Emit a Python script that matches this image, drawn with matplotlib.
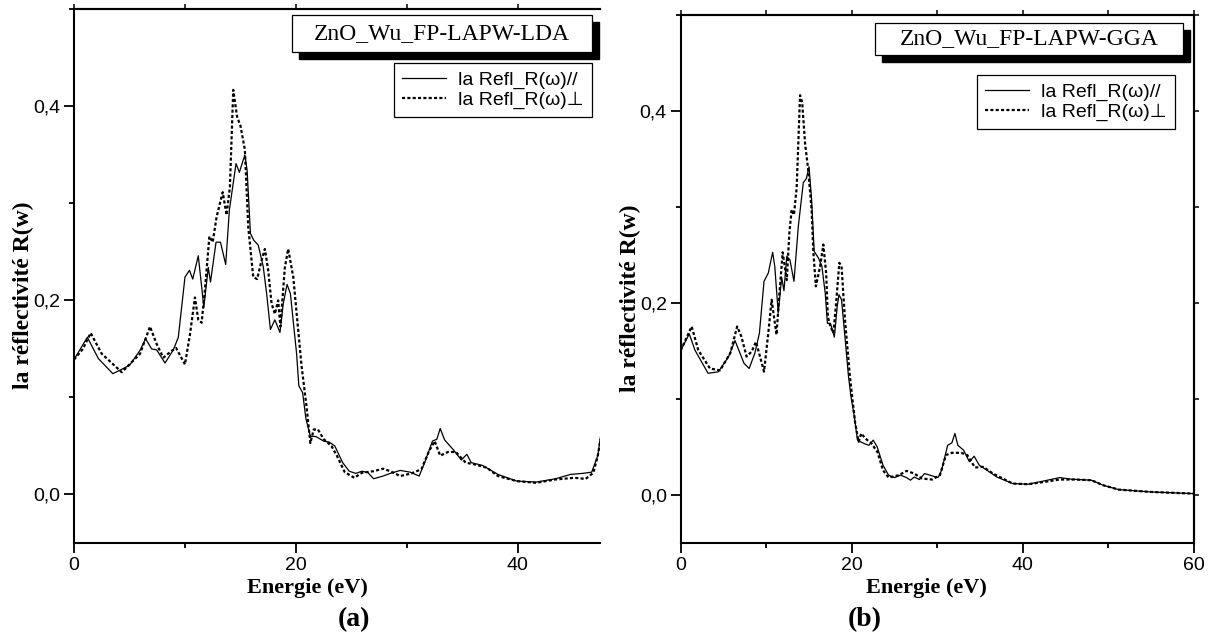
import matplotlib
matplotlib.use("Agg")
import matplotlib.pyplot as plt
from matplotlib.patches import Rectangle
from matplotlib.ticker import MultipleLocator, FuncFormatter

# ---- reflectivity spectra (energy in eV, R(w)) ----
# LDA, parallel polarisation
E_a_par = [0, 1.2, 2.2, 3.5, 5.0, 5.95, 6.45, 7.0, 7.45, 8.2, 8.95, 9.4, 10.0, 10.4, 10.7,
           11.2, 11.7, 12.1, 12.3, 12.8, 13.2, 13.67, 14.0, 14.6, 14.9, 15.4, 15.6, 15.9,
           16.2, 16.6, 17.05, 17.36, 17.7, 18.1, 18.56, 18.86, 19.2, 19.5, 20.06, 20.26,
           20.6, 20.9, 21.3, 21.8, 22.5, 23.0, 23.5, 24.2, 24.8, 25.4, 25.95, 26.5, 27.0,
           27.85, 28.5, 29.4, 30.3, 31.1, 31.6, 32.3, 32.7, 33.0, 33.4, 34.2, 34.9, 35.4,
           35.8, 36.8, 38.2, 39.9, 41.65, 43.4, 44.75, 45.8, 46.65, 47.2, 47.45]
R_a_par = [0.139, 0.162, 0.140, 0.1245, 0.133, 0.1485, 0.1605, 0.150, 0.149, 0.1355, 0.149,
           0.162, 0.224, 0.231, 0.222, 0.246, 0.193, 0.234, 0.219, 0.260, 0.260, 0.237,
           0.293, 0.341, 0.332, 0.350, 0.334, 0.269, 0.262, 0.257, 0.235, 0.207, 0.170,
           0.180, 0.167, 0.197, 0.2165, 0.207, 0.145, 0.112, 0.105, 0.078, 0.060, 0.0597,
           0.055, 0.054, 0.050, 0.033, 0.024, 0.0217, 0.024, 0.0224, 0.0162, 0.019, 0.0217,
           0.0248, 0.023, 0.019, 0.0328, 0.055, 0.057, 0.068, 0.0562, 0.0459, 0.0355,
           0.0414, 0.0328, 0.030, 0.0207, 0.0138, 0.0128, 0.0162, 0.0207, 0.0217, 0.023,
           0.040, 0.060]

# LDA, perpendicular polarisation
E_a_perp = [0, 0.8, 1.5, 2.5, 4.3, 5.95, 6.85, 7.45, 8.05, 8.8, 9.2, 10.0, 10.45, 10.9, 11.2,
            11.5, 11.8, 12.2, 12.5, 12.85, 13.4, 13.75, 14.05, 14.35, 14.7, 15.0, 15.4, 15.7,
            16.15, 16.5, 16.9, 17.2, 17.5, 17.8, 18.1, 18.4, 18.6, 19.0, 19.3, 19.76, 20.5,
            20.95, 21.3, 21.6, 21.98, 22.5, 23.2, 23.7, 24.4, 25.26, 25.95, 27.0, 27.85,
            28.5, 29.4, 30.4, 31.3, 32.0, 32.5, 33.0, 33.7, 34.4, 35.3, 36.1, 37.2, 38.2,
            39.9, 41.65, 43.4, 45.1, 46.1, 46.8, 47.2, 47.45]
R_a_perp = [0.139, 0.150, 0.1664, 0.145, 0.126, 0.145, 0.173, 0.155, 0.141, 0.148, 0.151,
            0.134, 0.165, 0.203, 0.180, 0.177, 0.211, 0.266, 0.260, 0.286, 0.3115, 0.288,
            0.317, 0.417, 0.389, 0.380, 0.355, 0.276, 0.224, 0.222, 0.241, 0.253, 0.231,
            0.197, 0.186, 0.200, 0.173, 0.234, 0.253, 0.224, 0.133, 0.091, 0.053, 0.067,
            0.067, 0.057, 0.050, 0.0397, 0.023, 0.0172, 0.0224, 0.024, 0.0266, 0.024, 0.019,
            0.0217, 0.026, 0.0448, 0.055, 0.040, 0.0438, 0.0438, 0.0328, 0.031, 0.0276,
            0.019, 0.0138, 0.012, 0.0155, 0.0172, 0.016, 0.0224, 0.040, 0.057]

# GGA, parallel polarisation
E_b_par = [0, 1.0, 1.67, 3.2, 4.4, 5.6, 6.35, 6.85, 7.4, 8.0, 8.67, 9.2, 9.74, 10.24, 10.75,
           11.0, 11.4, 11.8, 12.07, 12.4, 12.77, 13.24, 13.75, 14.33, 14.7, 15.0, 15.3, 15.6,
           16.1, 16.5, 16.9, 17.15, 17.5, 17.96, 18.3, 18.5, 18.8, 19.2, 19.6, 19.9, 20.3,
           20.66, 21.4, 22.0, 22.5, 22.96, 23.65, 24.3, 25.0, 25.7, 26.4, 26.86, 27.3, 27.9,
           28.5, 29.15, 30.07, 30.5, 31.2, 31.7, 32.05, 32.4, 33.06, 33.75, 34.3, 34.9, 35.8,
           36.96, 38.8, 40.6, 42.5, 44.3, 45.7, 48.0, 49.4, 51.2, 54.9, 60.0]
R_b_par = [0.1507, 0.168, 0.151, 0.127, 0.1285, 0.1444, 0.161, 0.1497, 0.1374, 0.132, 0.148,
           0.1688, 0.2227, 0.2314, 0.253, 0.238, 0.1896, 0.227, 0.213, 0.2488, 0.245, 0.2227,
           0.280, 0.3254, 0.330, 0.342, 0.308, 0.254, 0.247, 0.2385, 0.210, 0.179, 0.179,
           0.1646, 0.197, 0.2088, 0.2036, 0.165, 0.125, 0.1026, 0.0818, 0.0574, 0.054, 0.052,
           0.0574, 0.0505, 0.0313, 0.0209, 0.0184, 0.0209, 0.0184, 0.0157, 0.019, 0.0164,
           0.0226, 0.0209, 0.0184, 0.026, 0.052, 0.0546, 0.0644, 0.052, 0.047, 0.0348,
           0.0407, 0.0313, 0.026, 0.019, 0.0122, 0.0115, 0.015, 0.0184, 0.0167, 0.0157,
           0.0104, 0.0059, 0.0035, 0.0017]

# GGA, perpendicular polarisation
E_b_perp = [0, 1.28, 2.06, 3.42, 4.6, 5.8, 6.6, 7.1, 7.7, 8.3, 8.8, 9.27, 9.74, 10.24, 10.63,
            10.9, 11.2, 11.53, 11.92, 12.4, 12.7, 12.97, 13.24, 13.56, 13.95, 14.2, 14.53,
            14.9, 15.3, 15.5, 15.8, 16.3, 16.67, 17.0, 17.2, 17.5, 17.85, 18.2, 18.54, 18.8,
            19.2, 19.8, 20.4, 20.8, 21.1, 21.6, 22.3, 23.0, 23.65, 24.3, 25.5, 26.4, 27.3,
            28.2, 29.4, 30.3, 31.0, 31.7, 32.8, 33.5, 34.4, 35.35, 36.5, 38.8, 40.6, 42.5,
            44.3, 46.1, 48.0, 49.4, 51.2, 54.9, 60.0]
R_b_perp = [0.1507, 0.1757, 0.151, 0.132, 0.130, 0.148, 0.1757, 0.165, 0.1444, 0.1497,
            0.1597, 0.1444, 0.1287, 0.169, 0.2035, 0.186, 0.1672, 0.2088, 0.253, 0.224,
            0.273, 0.2975, 0.292, 0.3206, 0.4165, 0.409, 0.367, 0.339, 0.2975, 0.254,
            0.2175, 0.2385, 0.261, 0.2315, 0.186, 0.1757, 0.169, 0.2036, 0.242, 0.2385,
            0.183, 0.1218, 0.075, 0.0557, 0.0644, 0.059, 0.054, 0.045, 0.026, 0.0184, 0.0209,
            0.0254, 0.0226, 0.0174, 0.0164, 0.0209, 0.0418, 0.0442, 0.0442, 0.0418, 0.0289,
            0.0296, 0.0226, 0.0122, 0.0115, 0.0139, 0.0164, 0.0164, 0.0157, 0.0104, 0.0059,
            0.0035, 0.0017]

labels = ["la Refl_R(\u03c9)//", "la Refl_R(\u03c9)\u22a5"]
titles = ["ZnO_Wu_FP-LAPW-LDA", "ZnO_Wu_FP-LAPW-GGA"]
panel_tags = ["(a)", "(b)"]
x_limits = [47.4, 60]
show_right = [False, True]

W, H = 1215, 642
SERIF = ["Liberation Serif", "DejaVu Serif"]
SANS = ["Liberation Sans", "DejaVu Sans"]

fig = plt.figure(figsize=(W / 100, H / 100), dpi=100)


def px_box(left, top, right, bottom):
    """Figure-fraction rectangle from pixel edges measured from the top-left."""
    return [left / W, 1 - bottom / H, (right - left) / W, (bottom - top) / H]


axes_px = [(74, 9.3, 600, 543), (680.7, 15, 1194, 543.3)]
title_px = [(291.7, 15, 591.7, 51.7), (875, 22.7, 1183, 55)]
legend_anchor_px = [(592, 63), (1175, 75)]
xlabel_px = [(307.5, 588), (926, 588)]
tag_px = [(354, 620), (865, 620)]

series = [(E_a_par, R_a_par, E_a_perp, R_a_perp), (E_b_par, R_b_par, E_b_perp, R_b_perp)]

comma = FuncFormatter(lambda v, p: f"{v:.1f}".replace(".", ","))

for i in range(2):
    ax = fig.add_axes(px_box(*axes_px[i]))
    e1, r1, e2, r2 = series[i]
    ax.plot(e1, r1, color="black", lw=0.9, label=labels[0])
    ax.plot(e2, r2, color="black", lw=1.6, dashes=(1.4, 1.0), label=labels[1])

    ax.set_xlim(0, x_limits[i])
    ax.set_ylim(-0.05, 0.5)
    ax.xaxis.set_major_locator(MultipleLocator(20))
    ax.xaxis.set_minor_locator(MultipleLocator(10))
    ax.yaxis.set_major_locator(MultipleLocator(0.2))
    ax.yaxis.set_minor_locator(MultipleLocator(0.1))
    ax.yaxis.set_major_formatter(comma)
    for s in ax.spines.values():
        s.set_linewidth(1.5)
    ax.spines["right"].set_visible(show_right[i])
    ax.tick_params(which="both", direction="out", width=1.3)
    ax.tick_params(which="major", length=7, labelsize=14, pad=3)
    ax.tick_params(which="minor", length=3.5)
    for lab in ax.get_xticklabels() + ax.get_yticklabels():
        lab.set_family(SANS)

    # short ticks along the top (and right) frame
    top = ax.secondary_xaxis("top")
    top.xaxis.set_major_locator(MultipleLocator(10))
    top.tick_params(direction="out", length=3.5, width=1.1, labeltop=False)
    top.spines["top"].set_linewidth(1.5)
    if show_right[i]:
        right = ax.secondary_yaxis("right")
        right.yaxis.set_major_locator(MultipleLocator(0.1))
        right.tick_params(direction="out", length=3.5, width=1.1, labelright=False)
        right.spines["right"].set_linewidth(1.5)

    ax.set_ylabel("la r\u00e9flectivit\u00e9 R(w)", fontsize=17, fontweight="bold",
                  family=SERIF)
    ax.yaxis.set_label_coords(-40 / (axes_px[i][2] - axes_px[i][0]), 0.464)

    lx, ly = legend_anchor_px[i]
    leg = ax.legend(loc="upper right", bbox_to_anchor=(lx / W, 1 - ly / H),
                    bbox_transform=fig.transFigure, borderaxespad=0,
                    fancybox=False, edgecolor="black", framealpha=1,
                    prop={"family": SANS, "size": 14}, handlelength=2.3,
                    handletextpad=0.6, labelspacing=0.12, borderpad=0.42)
    leg.get_frame().set_linewidth(0.9)

    # title box with a drop shadow
    l, t, r, b = title_px[i]
    off = 7
    sh = px_box(l + off, t + off, r + off, b + off)
    fig.patches.append(Rectangle((sh[0], sh[1]), sh[2], sh[3], transform=fig.transFigure,
                                 facecolor="black", edgecolor="black", zorder=5))
    bx = px_box(l, t, r, b)
    fig.patches.append(Rectangle((bx[0], bx[1]), bx[2], bx[3], transform=fig.transFigure,
                                 facecolor="white", edgecolor="black", lw=0.9, zorder=6))
    fig.text((l + r) / 2 / W, 1 - (t + b) / 2 / H, titles[i], ha="center", va="center",
             fontsize=17, family=SERIF, zorder=7)

    fig.text(xlabel_px[i][0] / W, 1 - xlabel_px[i][1] / H, "Energie (eV)", ha="center",
             va="center", fontsize=16, fontweight="bold", family=SERIF)
    fig.text(tag_px[i][0] / W, 1 - tag_px[i][1] / H, panel_tags[i], ha="center",
             va="center", fontsize=20, fontweight="bold", family=SERIF)

fig.savefig("out.png", dpi=100)
